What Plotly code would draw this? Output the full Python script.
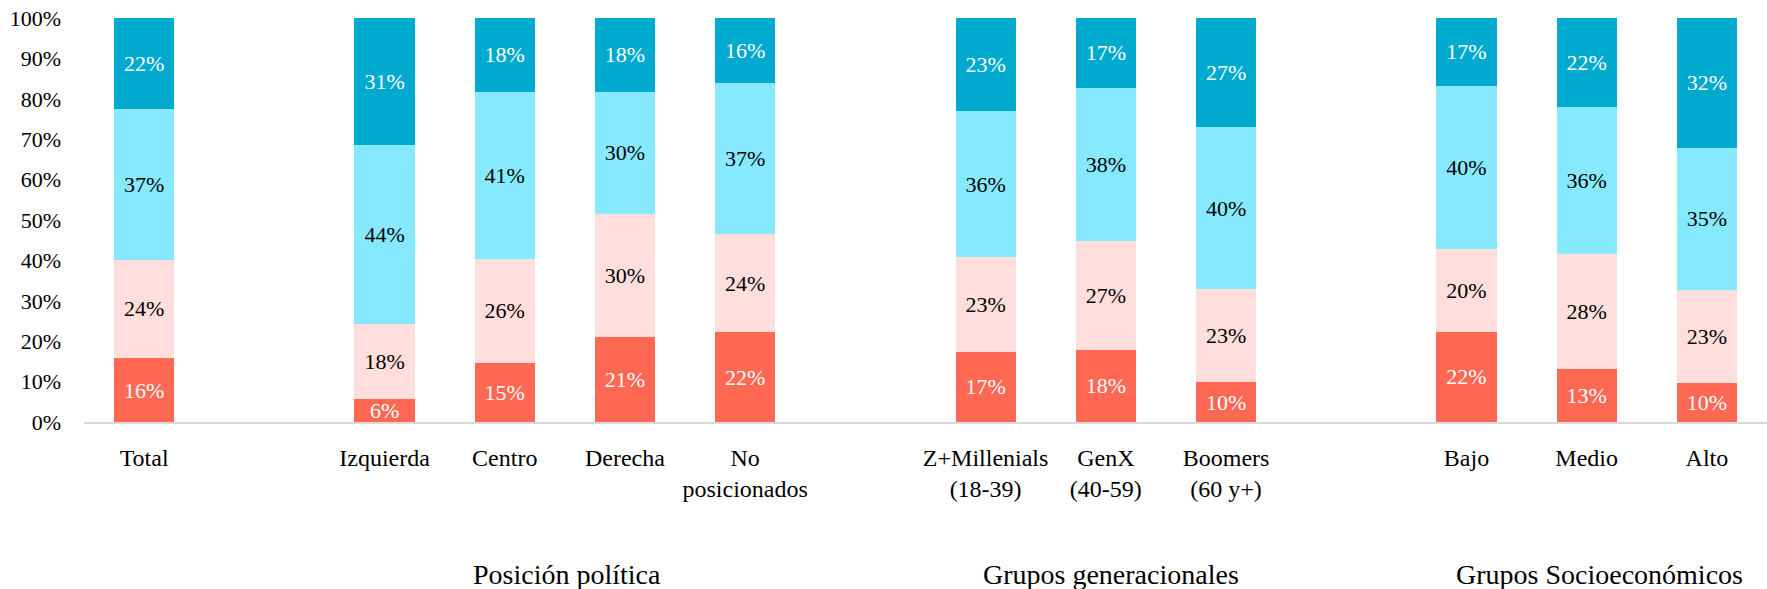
import plotly.graph_objects as go

# Category groups (an empty slot is left between groups on the axis)
groups = [
    ("", ["Total"]),
    ("Posición política", ["Izquierda", "Centro", "Derecha", "No<br>posicionados"]),
    ("Grupos generacionales", ["Z+Millenials<br>(18-39)", "GenX<br>(40-59)", "Boomers<br>(60 y+)"]),
    ("Grupos Socioeconómicos", ["Bajo", "Medio", "Alto"]),
]

# Share of respondents per answer segment (percent), bottom to top
seg_red = [15.8, 5.8, 14.7, 21.1, 22.2, 17.4, 17.9, 9.8, 22.4, 13.2, 9.6]
seg_pink = [24.4, 18.4, 25.7, 30.4, 24.4, 23.4, 27.0, 23.0, 20.4, 28.4, 23.0]
seg_cyan = [37.4, 44.4, 41.4, 30.3, 37.4, 36.2, 37.8, 40.3, 40.4, 36.4, 35.3]
seg_teal = [22.4, 31.4, 18.2, 18.2, 16.0, 23.0, 17.3, 26.9, 16.8, 22.0, 32.1]

y_ticks = [0, 10, 20, 30, 40, 50, 60, 70, 80, 90, 100]

FONT = "Palatino Linotype, Book Antiqua, Palatino, Liberation Serif, serif"

# Axis slot for every bar, and the centre of each group
positions, labels, group_centers = [], [], []
slot = 0
for title, cats in groups:
    start = slot
    for c in cats:
        positions.append(slot)
        labels.append(c)
        slot += 1
    group_centers.append((title, (start + slot - 1) / 2))
    slot += 1  # gap between groups
last_slot = positions[-1]

series = [
    (seg_red, "#FF6853", "white"),
    (seg_pink, "#FFDEDB", "black"),
    (seg_cyan, "#87E9FF", "black"),
    (seg_teal, "#00AACE", "white"),
]

fig = go.Figure()
for vals, color, txtcolor in series:
    fig.add_trace(go.Bar(
        x=positions,
        y=vals,
        width=0.5,
        marker=dict(color=color, line=dict(width=0)),
        texttemplate="%{y:.0f}%",
        textposition="inside",
        insidetextanchor="middle",
        textangle=0,
        textfont=dict(family=FONT, size=22, color=txtcolor),
        hoverinfo="skip",
        showlegend=False,
    ))

title_shift = {"Posición política": 2, "Grupos generacionales": 5, "Grupos Socioeconómicos": 13}
for title, center in group_centers:
    if not title:
        continue
    fig.add_annotation(
        x=center, xref="x", y=-0.377, yref="paper",
        text=title, showarrow=False, xanchor="center", yanchor="middle",
        xshift=title_shift.get(title, 0),
        font=dict(family=FONT, size=28, color="black"),
    )

fig.update_layout(
    barmode="stack",
    width=1767, height=589,
    margin=dict(l=84, r=0, t=18, b=167, autoexpand=False),
    paper_bgcolor="white", plot_bgcolor="white",
    font=dict(family=FONT, size=22, color="black"),
    uniformtext=dict(minsize=22, mode="show"),
    xaxis=dict(
        range=[-0.5, last_slot + 0.5],
        tickmode="array", tickvals=positions, ticktext=labels,
        showgrid=False, zeroline=False,
        showline=True, linecolor="#D9D9D9", linewidth=2,
        ticks="", tickfont=dict(family=FONT, size=24, color="black"),
        ticklabelstandoff=13, automargin=False,
    ),
    yaxis=dict(
        range=[0, 100],
        tickmode="array", tickvals=y_ticks, ticktext=[f"{v}%" for v in y_ticks],
        showgrid=False, zeroline=False, showline=False,
        ticks="", tickfont=dict(family=FONT, size=22, color="black"),
        ticklabelstandoff=22, automargin=False,
    ),
)

fig.write_html("out.html")
